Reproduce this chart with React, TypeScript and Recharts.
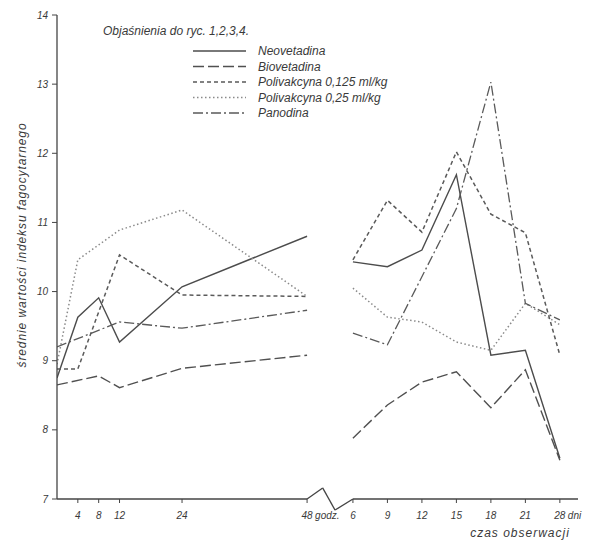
import { LineChart, Line, XAxis, YAxis, ReferenceLine } from "recharts";

// observation times: hours (left part of the axis) and days (right part, evenly spaced)
const HOURS = [0, 4, 8, 12, 24, 48];
const HOUR_TICKS = [4, 8, 12, 24, 48];
const DAYS = [6, 9, 12, 15, 18, 21, 28];
const Y_TICKS = [7, 8, 9, 10, 11, 12, 13, 14];

// mean phagocytic index values (null = no point drawn)
const neovetadinaH = [8.75, 9.63, 9.91, 9.27, 10.07, 10.8];
const neovetadinaD = [10.43, 10.36, 10.6, 11.69, 9.08, 9.15, 7.59];
const biovetadinaH = [8.65, null, 8.78, 8.61, 8.89, 9.08];
const biovetadinaD = [7.88, 8.36, 8.69, 8.84, 8.32, 8.87, 7.56];
const poli125H = [8.88, 8.88, null, 10.53, 9.95, 9.93];
const poli125D = [10.46, 11.32, 10.86, 12.02, 11.12, 10.85, 9.08];
const poli25H = [8.95, 10.46, null, 10.89, 11.18, 9.93];
const poli25D = [10.05, 9.63, 9.56, 9.27, 9.15, 9.83, 9.52];
const panodinaH = [9.2, null, null, 9.56, 9.47, 9.73];
const panodinaD = [9.4, 9.23, null, 11.2, 13.03, 9.83, 9.59];

const WIDTH = 585;
const HEIGHT = 534;
const FONT = "'Liberation Sans', Arial, sans-serif";
const INK = "#3a3a3a";

// x axis is in "hour" units; the day section starts after a break
const X_MAX = 100;
const DAY_START = 56.8;
const DAY_STEP = 6.62;
const dayPos = (i: number) => DAY_START + i * DAY_STEP;

const SERIES = [
  { name: "Neovetadina", hours: neovetadinaH, days: neovetadinaD, stroke: "#4c4c4c", dash: undefined, width: 1.4 },
  { name: "Biovetadina", hours: biovetadinaH, days: biovetadinaD, stroke: "#505050", dash: "11 4", width: 1.4 },
  { name: "Polivakcyna 0,125 ml/kg", hours: poli125H, days: poli125D, stroke: "#5a5a5a", dash: "4 3", width: 1.5 },
  { name: "Polivakcyna 0,25 ml/kg", hours: poli25H, days: poli25D, stroke: "#8a8a8a", dash: "1.5 2.5", width: 1.5 },
  { name: "Panodina", hours: panodinaH, days: panodinaD, stroke: "#5a5a5a", dash: "10 3 2 3", width: 1.3 },
];

const toPoints = (values: (number | null)[], xs: number[]) =>
  values
    .map((v, i) => ({ pos: xs[i], v }))
    .filter((p) => p.v !== null);

const DAY_X = DAYS.map((_, i) => dayPos(i));

const X_TICKS = [
  ...HOUR_TICKS.map((h, i) => ({
    pos: h,
    num: String(h),
    unit: i === HOUR_TICKS.length - 1 ? "godz." : "",
  })),
  ...DAYS.map((d, i) => ({
    pos: dayPos(i),
    num: String(d),
    unit: i === DAYS.length - 1 ? "dni" : "",
  })),
];

const labelStyle = { fontSize: 10, fill: INK, fontStyle: "italic" as const, fontFamily: FONT };

function XTick(props: any) {
  const { x, y, payload } = props;
  const t = X_TICKS.find((k) => Math.abs(k.pos - payload.value) < 0.01);
  if (!t) return null;
  return (
    <g>
      <text x={x} y={y} dy={14} textAnchor="middle" {...labelStyle}>
        {t.num}
      </text>
      {t.unit && (
        <text x={x + 8} y={y} dy={14} textAnchor="start" {...labelStyle}>
          {t.unit}
        </text>
      )}
    </g>
  );
}

// axis break between 48 h and day 6
const GAP = DAY_START - 48;
const AXIS_SEGMENTS = [
  [{ x: 0, y: 7 }, { x: 48, y: 7 }],
  [{ x: 48, y: 7 }, { x: 48 + GAP * 0.34, y: 7.16 }],
  [{ x: 48 + GAP * 0.34, y: 7.16 }, { x: 48 + GAP * 0.61, y: 6.84 }],
  [{ x: 48 + GAP * 0.61, y: 6.84 }, { x: DAY_START, y: 7 }],
  [{ x: DAY_START, y: 7 }, { x: X_MAX, y: 7 }],
];

function LegendBlock() {
  const rowY = (i: number) => 43 + i * 15.5;
  return (
    <svg
      width={WIDTH}
      height={HEIGHT}
      style={{ position: "absolute", left: 0, top: 0, pointerEvents: "none" }}
    >
      <text x={95} y={27} fontSize={12} fill={INK} fontStyle="italic" fontFamily={FONT}>
        Objaśnienia do ryc. 1,2,3,4.
      </text>
      {SERIES.map((s, i) => (
        <g key={s.name}>
          <line
            x1={185}
            x2={238}
            y1={rowY(i)}
            y2={rowY(i)}
            stroke={s.stroke}
            strokeWidth={s.width}
            strokeDasharray={s.dash}
          />
          <text x={250} y={rowY(i) + 4} fontSize={12} fill={INK} fontStyle="italic" fontFamily={FONT}>
            {s.name}
          </text>
        </g>
      ))}
      <text
        transform="translate(18, 237) rotate(-90)"
        textAnchor="middle"
        fontSize={12}
        letterSpacing={0.9}
        fill={INK}
        fontStyle="italic"
        fontFamily={FONT}
      >
        średnie wartości indeksu fagocytarnego
      </text>
      <text
        x={512}
        y={529}
        textAnchor="middle"
        fontSize={12}
        letterSpacing={1}
        fill={INK}
        fontStyle="italic"
        fontFamily={FONT}
      >
        czas obserwacji
      </text>
    </svg>
  );
}

export default function App() {
  return (
    <div style={{ position: "relative", width: WIDTH, height: HEIGHT, fontFamily: FONT, background: "#fff" }}>
      <LineChart
        width={WIDTH}
        height={HEIGHT}
        margin={{ top: 7, right: 15, bottom: 13, left: 0 }}
      >
        <XAxis
          type="number"
          dataKey="pos"
          domain={[0, X_MAX]}
          ticks={X_TICKS.map((t) => t.pos)}
          interval={0}
          tick={<XTick />}
          tickSize={4}
          tickLine={{ stroke: "#444" }}
          axisLine={false}
          height={30}
          allowDataOverflow
        />
        <YAxis
          type="number"
          domain={[7, 14]}
          ticks={Y_TICKS}
          interval={0}
          width={49}
          tickSize={5}
          tickMargin={4}
          tick={labelStyle}
          tickLine={{ stroke: "#444" }}
          axisLine={{ stroke: "#444", strokeWidth: 1.3 }}
          allowDataOverflow
        />
        {AXIS_SEGMENTS.map((seg, i) => (
          <ReferenceLine
            key={`ax-${i}`}
            segment={seg}
            stroke="#444"
            strokeWidth={1.3}
            ifOverflow="visible"
          />
        ))}
        {SERIES.map((s) => (
          <Line
            key={`${s.name}-h`}
            data={toPoints(s.hours, HOURS)}
            dataKey="v"
            type="linear"
            stroke={s.stroke}
            strokeWidth={s.width}
            strokeDasharray={s.dash}
            dot={false}
            activeDot={false}
            isAnimationActive={false}
          />
        ))}
        {SERIES.map((s) => (
          <Line
            key={`${s.name}-d`}
            data={toPoints(s.days, DAY_X)}
            dataKey="v"
            type="linear"
            stroke={s.stroke}
            strokeWidth={s.width}
            strokeDasharray={s.dash}
            dot={false}
            activeDot={false}
            isAnimationActive={false}
          />
        ))}
      </LineChart>
      <LegendBlock />
    </div>
  );
}
